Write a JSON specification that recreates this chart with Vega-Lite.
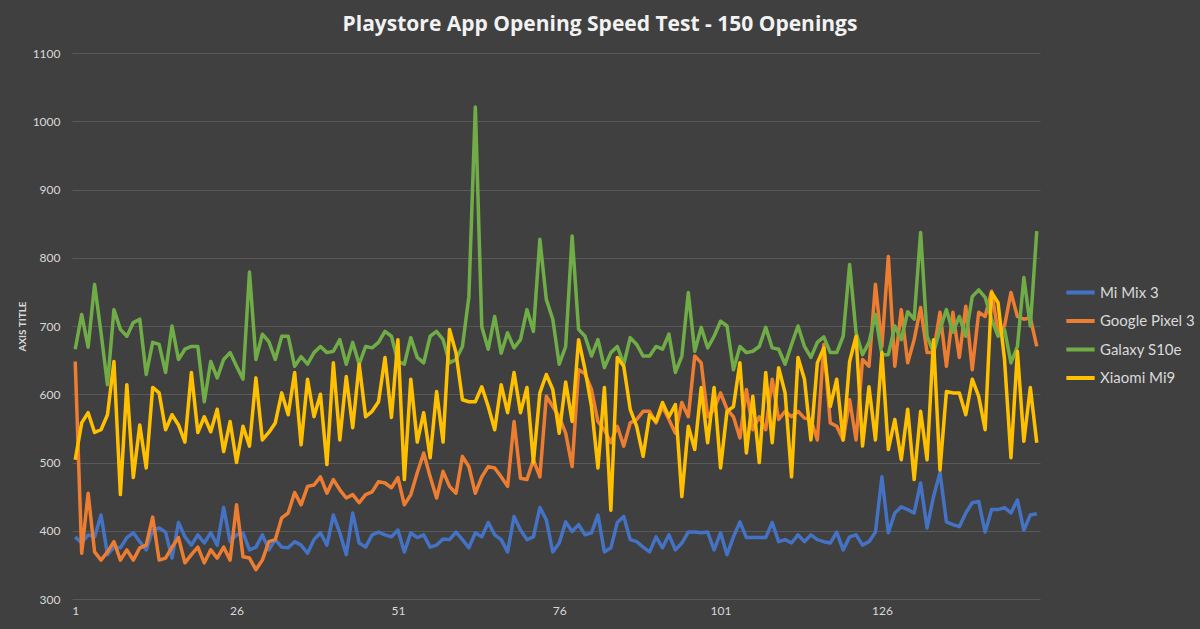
{
  "$schema": "https://vega.github.io/schema/vega-lite/v6.json",
  "width": 968,
  "height": 546,
  "autosize": {"type": "none"},
  "padding": {"left": 72, "top": 53, "right": 160, "bottom": 30},
  "background": "#404040",
  "title": {
    "text": "Playstore App Opening Speed Test - 150 Openings",
    "font": "Open Sans",
    "fontSize": 21,
    "fontWeight": "bold",
    "color": "#f2f2f2",
    "dx": 44,
    "offset": 12
  },
  "data": {
    "values": [
      {"n":1,"Mi Mix 3":391,"Google Pixel 3":648,"Galaxy S10e":666,"Xiaomi Mi9":504},
      {"n":2,"Mi Mix 3":382,"Google Pixel 3":367,"Galaxy S10e":717,"Xiaomi Mi9":558},
      {"n":3,"Mi Mix 3":394,"Google Pixel 3":455,"Galaxy S10e":669,"Xiaomi Mi9":573},
      {"n":4,"Mi Mix 3":391,"Google Pixel 3":369,"Galaxy S10e":761,"Xiaomi Mi9":544},
      {"n":5,"Mi Mix 3":423,"Google Pixel 3":357,"Galaxy S10e":690,"Xiaomi Mi9":548},
      {"n":6,"Mi Mix 3":365,"Google Pixel 3":369,"Galaxy S10e":614,"Xiaomi Mi9":570},
      {"n":7,"Mi Mix 3":376,"Google Pixel 3":384,"Galaxy S10e":724,"Xiaomi Mi9":648},
      {"n":8,"Mi Mix 3":375,"Google Pixel 3":357,"Galaxy S10e":695,"Xiaomi Mi9":453},
      {"n":9,"Mi Mix 3":390,"Google Pixel 3":372,"Galaxy S10e":685,"Xiaomi Mi9":614},
      {"n":10,"Mi Mix 3":397,"Google Pixel 3":357,"Galaxy S10e":705,"Xiaomi Mi9":478},
      {"n":11,"Mi Mix 3":384,"Google Pixel 3":375,"Galaxy S10e":710,"Xiaomi Mi9":555},
      {"n":12,"Mi Mix 3":372,"Google Pixel 3":379,"Galaxy S10e":629,"Xiaomi Mi9":492},
      {"n":13,"Mi Mix 3":401,"Google Pixel 3":420,"Galaxy S10e":676,"Xiaomi Mi9":610},
      {"n":14,"Mi Mix 3":404,"Google Pixel 3":357,"Galaxy S10e":673,"Xiaomi Mi9":602},
      {"n":15,"Mi Mix 3":398,"Google Pixel 3":360,"Galaxy S10e":632,"Xiaomi Mi9":548},
      {"n":16,"Mi Mix 3":360,"Google Pixel 3":376,"Galaxy S10e":700,"Xiaomi Mi9":570},
      {"n":17,"Mi Mix 3":412,"Google Pixel 3":390,"Galaxy S10e":651,"Xiaomi Mi9":555},
      {"n":18,"Mi Mix 3":391,"Google Pixel 3":353,"Galaxy S10e":666,"Xiaomi Mi9":530},
      {"n":19,"Mi Mix 3":379,"Google Pixel 3":365,"Galaxy S10e":670,"Xiaomi Mi9":632},
      {"n":20,"Mi Mix 3":394,"Google Pixel 3":376,"Galaxy S10e":670,"Xiaomi Mi9":544},
      {"n":21,"Mi Mix 3":382,"Google Pixel 3":353,"Galaxy S10e":589,"Xiaomi Mi9":567},
      {"n":22,"Mi Mix 3":397,"Google Pixel 3":372,"Galaxy S10e":648,"Xiaomi Mi9":545},
      {"n":23,"Mi Mix 3":379,"Google Pixel 3":360,"Galaxy S10e":624,"Xiaomi Mi9":578},
      {"n":24,"Mi Mix 3":434,"Google Pixel 3":376,"Galaxy S10e":651,"Xiaomi Mi9":516},
      {"n":25,"Mi Mix 3":384,"Google Pixel 3":357,"Galaxy S10e":661,"Xiaomi Mi9":560},
      {"n":26,"Mi Mix 3":394,"Google Pixel 3":438,"Galaxy S10e":641,"Xiaomi Mi9":500},
      {"n":27,"Mi Mix 3":397,"Google Pixel 3":362,"Galaxy S10e":622,"Xiaomi Mi9":553},
      {"n":28,"Mi Mix 3":372,"Google Pixel 3":360,"Galaxy S10e":779,"Xiaomi Mi9":524},
      {"n":29,"Mi Mix 3":376,"Google Pixel 3":343,"Galaxy S10e":651,"Xiaomi Mi9":624},
      {"n":30,"Mi Mix 3":394,"Google Pixel 3":357,"Galaxy S10e":688,"Xiaomi Mi9":533},
      {"n":31,"Mi Mix 3":372,"Google Pixel 3":384,"Galaxy S10e":677,"Xiaomi Mi9":544},
      {"n":32,"Mi Mix 3":387,"Google Pixel 3":387,"Galaxy S10e":651,"Xiaomi Mi9":558},
      {"n":33,"Mi Mix 3":376,"Google Pixel 3":419,"Galaxy S10e":685,"Xiaomi Mi9":602},
      {"n":34,"Mi Mix 3":375,"Google Pixel 3":426,"Galaxy S10e":685,"Xiaomi Mi9":570},
      {"n":35,"Mi Mix 3":384,"Google Pixel 3":456,"Galaxy S10e":641,"Xiaomi Mi9":632},
      {"n":36,"Mi Mix 3":379,"Google Pixel 3":438,"Galaxy S10e":655,"Xiaomi Mi9":526},
      {"n":37,"Mi Mix 3":367,"Google Pixel 3":465,"Galaxy S10e":644,"Xiaomi Mi9":622},
      {"n":38,"Mi Mix 3":387,"Google Pixel 3":467,"Galaxy S10e":661,"Xiaomi Mi9":567},
      {"n":39,"Mi Mix 3":397,"Google Pixel 3":479,"Galaxy S10e":670,"Xiaomi Mi9":600},
      {"n":40,"Mi Mix 3":379,"Google Pixel 3":455,"Galaxy S10e":661,"Xiaomi Mi9":497},
      {"n":41,"Mi Mix 3":423,"Google Pixel 3":475,"Galaxy S10e":663,"Xiaomi Mi9":646},
      {"n":42,"Mi Mix 3":397,"Google Pixel 3":460,"Galaxy S10e":680,"Xiaomi Mi9":533},
      {"n":43,"Mi Mix 3":365,"Google Pixel 3":448,"Galaxy S10e":644,"Xiaomi Mi9":626},
      {"n":44,"Mi Mix 3":426,"Google Pixel 3":453,"Galaxy S10e":676,"Xiaomi Mi9":551},
      {"n":45,"Mi Mix 3":382,"Google Pixel 3":441,"Galaxy S10e":644,"Xiaomi Mi9":644},
      {"n":46,"Mi Mix 3":376,"Google Pixel 3":453,"Galaxy S10e":670,"Xiaomi Mi9":567},
      {"n":47,"Mi Mix 3":394,"Google Pixel 3":457,"Galaxy S10e":668,"Xiaomi Mi9":575},
      {"n":48,"Mi Mix 3":398,"Google Pixel 3":472,"Galaxy S10e":676,"Xiaomi Mi9":589},
      {"n":49,"Mi Mix 3":394,"Google Pixel 3":470,"Galaxy S10e":692,"Xiaomi Mi9":654},
      {"n":50,"Mi Mix 3":391,"Google Pixel 3":463,"Galaxy S10e":685,"Xiaomi Mi9":566},
      {"n":51,"Mi Mix 3":401,"Google Pixel 3":478,"Galaxy S10e":648,"Xiaomi Mi9":680},
      {"n":52,"Mi Mix 3":369,"Google Pixel 3":438,"Galaxy S10e":644,"Xiaomi Mi9":475},
      {"n":53,"Mi Mix 3":397,"Google Pixel 3":453,"Galaxy S10e":683,"Xiaomi Mi9":622},
      {"n":54,"Mi Mix 3":390,"Google Pixel 3":485,"Galaxy S10e":654,"Xiaomi Mi9":530},
      {"n":55,"Mi Mix 3":394,"Google Pixel 3":514,"Galaxy S10e":646,"Xiaomi Mi9":573},
      {"n":56,"Mi Mix 3":376,"Google Pixel 3":479,"Galaxy S10e":685,"Xiaomi Mi9":507},
      {"n":57,"Mi Mix 3":379,"Google Pixel 3":448,"Galaxy S10e":692,"Xiaomi Mi9":604},
      {"n":58,"Mi Mix 3":388,"Google Pixel 3":487,"Galaxy S10e":680,"Xiaomi Mi9":530},
      {"n":59,"Mi Mix 3":387,"Google Pixel 3":465,"Galaxy S10e":646,"Xiaomi Mi9":695},
      {"n":60,"Mi Mix 3":398,"Google Pixel 3":455,"Galaxy S10e":651,"Xiaomi Mi9":661},
      {"n":61,"Mi Mix 3":387,"Google Pixel 3":509,"Galaxy S10e":670,"Xiaomi Mi9":592},
      {"n":62,"Mi Mix 3":375,"Google Pixel 3":494,"Galaxy S10e":743,"Xiaomi Mi9":589},
      {"n":63,"Mi Mix 3":397,"Google Pixel 3":455,"Galaxy S10e":1021,"Xiaomi Mi9":589},
      {"n":64,"Mi Mix 3":391,"Google Pixel 3":479,"Galaxy S10e":699,"Xiaomi Mi9":611},
      {"n":65,"Mi Mix 3":412,"Google Pixel 3":494,"Galaxy S10e":666,"Xiaomi Mi9":582},
      {"n":66,"Mi Mix 3":394,"Google Pixel 3":492,"Galaxy S10e":714,"Xiaomi Mi9":548},
      {"n":67,"Mi Mix 3":387,"Google Pixel 3":479,"Galaxy S10e":660,"Xiaomi Mi9":614},
      {"n":68,"Mi Mix 3":369,"Google Pixel 3":465,"Galaxy S10e":690,"Xiaomi Mi9":573},
      {"n":69,"Mi Mix 3":421,"Google Pixel 3":560,"Galaxy S10e":668,"Xiaomi Mi9":632},
      {"n":70,"Mi Mix 3":401,"Google Pixel 3":477,"Galaxy S10e":680,"Xiaomi Mi9":573},
      {"n":71,"Mi Mix 3":387,"Google Pixel 3":475,"Galaxy S10e":724,"Xiaomi Mi9":610},
      {"n":72,"Mi Mix 3":391,"Google Pixel 3":504,"Galaxy S10e":692,"Xiaomi Mi9":500},
      {"n":73,"Mi Mix 3":434,"Google Pixel 3":479,"Galaxy S10e":827,"Xiaomi Mi9":602},
      {"n":74,"Mi Mix 3":416,"Google Pixel 3":597,"Galaxy S10e":739,"Xiaomi Mi9":629},
      {"n":75,"Mi Mix 3":369,"Google Pixel 3":582,"Galaxy S10e":710,"Xiaomi Mi9":607},
      {"n":76,"Mi Mix 3":382,"Google Pixel 3":567,"Galaxy S10e":644,"Xiaomi Mi9":543},
      {"n":77,"Mi Mix 3":413,"Google Pixel 3":543,"Galaxy S10e":670,"Xiaomi Mi9":618},
      {"n":78,"Mi Mix 3":399,"Google Pixel 3":494,"Galaxy S10e":832,"Xiaomi Mi9":560},
      {"n":79,"Mi Mix 3":409,"Google Pixel 3":636,"Galaxy S10e":695,"Xiaomi Mi9":680},
      {"n":80,"Mi Mix 3":394,"Google Pixel 3":630,"Galaxy S10e":685,"Xiaomi Mi9":636},
      {"n":81,"Mi Mix 3":397,"Google Pixel 3":607,"Galaxy S10e":656,"Xiaomi Mi9":582},
      {"n":82,"Mi Mix 3":423,"Google Pixel 3":560,"Galaxy S10e":680,"Xiaomi Mi9":492},
      {"n":83,"Mi Mix 3":369,"Google Pixel 3":548,"Galaxy S10e":639,"Xiaomi Mi9":610},
      {"n":84,"Mi Mix 3":375,"Google Pixel 3":529,"Galaxy S10e":661,"Xiaomi Mi9":430},
      {"n":85,"Mi Mix 3":412,"Google Pixel 3":553,"Galaxy S10e":670,"Xiaomi Mi9":654},
      {"n":86,"Mi Mix 3":421,"Google Pixel 3":524,"Galaxy S10e":644,"Xiaomi Mi9":641},
      {"n":87,"Mi Mix 3":387,"Google Pixel 3":558,"Galaxy S10e":683,"Xiaomi Mi9":578},
      {"n":88,"Mi Mix 3":384,"Google Pixel 3":563,"Galaxy S10e":673,"Xiaomi Mi9":553},
      {"n":89,"Mi Mix 3":376,"Google Pixel 3":575,"Galaxy S10e":656,"Xiaomi Mi9":509},
      {"n":90,"Mi Mix 3":369,"Google Pixel 3":575,"Galaxy S10e":656,"Xiaomi Mi9":570},
      {"n":91,"Mi Mix 3":391,"Google Pixel 3":558,"Galaxy S10e":670,"Xiaomi Mi9":560},
      {"n":92,"Mi Mix 3":375,"Google Pixel 3":582,"Galaxy S10e":666,"Xiaomi Mi9":588},
      {"n":93,"Mi Mix 3":394,"Google Pixel 3":563,"Galaxy S10e":688,"Xiaomi Mi9":567},
      {"n":94,"Mi Mix 3":372,"Google Pixel 3":543,"Galaxy S10e":632,"Xiaomi Mi9":585},
      {"n":95,"Mi Mix 3":382,"Google Pixel 3":588,"Galaxy S10e":656,"Xiaomi Mi9":450},
      {"n":96,"Mi Mix 3":398,"Google Pixel 3":567,"Galaxy S10e":749,"Xiaomi Mi9":553},
      {"n":97,"Mi Mix 3":398,"Google Pixel 3":656,"Galaxy S10e":663,"Xiaomi Mi9":519},
      {"n":98,"Mi Mix 3":397,"Google Pixel 3":646,"Galaxy S10e":698,"Xiaomi Mi9":610},
      {"n":99,"Mi Mix 3":398,"Google Pixel 3":567,"Galaxy S10e":668,"Xiaomi Mi9":529},
      {"n":100,"Mi Mix 3":372,"Google Pixel 3":578,"Galaxy S10e":685,"Xiaomi Mi9":610},
      {"n":101,"Mi Mix 3":397,"Google Pixel 3":602,"Galaxy S10e":707,"Xiaomi Mi9":492},
      {"n":102,"Mi Mix 3":365,"Google Pixel 3":578,"Galaxy S10e":700,"Xiaomi Mi9":575},
      {"n":103,"Mi Mix 3":391,"Google Pixel 3":567,"Galaxy S10e":636,"Xiaomi Mi9":582},
      {"n":104,"Mi Mix 3":413,"Google Pixel 3":536,"Galaxy S10e":670,"Xiaomi Mi9":646},
      {"n":105,"Mi Mix 3":390,"Google Pixel 3":607,"Galaxy S10e":661,"Xiaomi Mi9":514},
      {"n":106,"Mi Mix 3":390,"Google Pixel 3":548,"Galaxy S10e":663,"Xiaomi Mi9":597},
      {"n":107,"Mi Mix 3":390,"Google Pixel 3":567,"Galaxy S10e":670,"Xiaomi Mi9":500},
      {"n":108,"Mi Mix 3":390,"Google Pixel 3":548,"Galaxy S10e":698,"Xiaomi Mi9":632},
      {"n":109,"Mi Mix 3":412,"Google Pixel 3":622,"Galaxy S10e":668,"Xiaomi Mi9":529},
      {"n":110,"Mi Mix 3":384,"Google Pixel 3":563,"Galaxy S10e":666,"Xiaomi Mi9":639},
      {"n":111,"Mi Mix 3":387,"Google Pixel 3":575,"Galaxy S10e":644,"Xiaomi Mi9":602},
      {"n":112,"Mi Mix 3":382,"Google Pixel 3":567,"Galaxy S10e":673,"Xiaomi Mi9":479},
      {"n":113,"Mi Mix 3":394,"Google Pixel 3":575,"Galaxy S10e":700,"Xiaomi Mi9":654},
      {"n":114,"Mi Mix 3":384,"Google Pixel 3":565,"Galaxy S10e":670,"Xiaomi Mi9":622},
      {"n":115,"Mi Mix 3":394,"Google Pixel 3":563,"Galaxy S10e":654,"Xiaomi Mi9":533},
      {"n":116,"Mi Mix 3":387,"Google Pixel 3":533,"Galaxy S10e":676,"Xiaomi Mi9":646},
      {"n":117,"Mi Mix 3":384,"Google Pixel 3":673,"Galaxy S10e":684,"Xiaomi Mi9":668},
      {"n":118,"Mi Mix 3":382,"Google Pixel 3":558,"Galaxy S10e":661,"Xiaomi Mi9":582},
      {"n":119,"Mi Mix 3":398,"Google Pixel 3":553,"Galaxy S10e":661,"Xiaomi Mi9":622},
      {"n":120,"Mi Mix 3":372,"Google Pixel 3":533,"Galaxy S10e":685,"Xiaomi Mi9":533},
      {"n":121,"Mi Mix 3":391,"Google Pixel 3":592,"Galaxy S10e":790,"Xiaomi Mi9":648},
      {"n":122,"Mi Mix 3":394,"Google Pixel 3":533,"Galaxy S10e":690,"Xiaomi Mi9":685},
      {"n":123,"Mi Mix 3":379,"Google Pixel 3":651,"Galaxy S10e":658,"Xiaomi Mi9":524},
      {"n":124,"Mi Mix 3":384,"Google Pixel 3":641,"Galaxy S10e":676,"Xiaomi Mi9":611},
      {"n":125,"Mi Mix 3":398,"Google Pixel 3":761,"Galaxy S10e":717,"Xiaomi Mi9":533},
      {"n":126,"Mi Mix 3":479,"Google Pixel 3":670,"Galaxy S10e":658,"Xiaomi Mi9":661},
      {"n":127,"Mi Mix 3":397,"Google Pixel 3":802,"Galaxy S10e":658,"Xiaomi Mi9":519},
      {"n":128,"Mi Mix 3":426,"Google Pixel 3":641,"Galaxy S10e":700,"Xiaomi Mi9":563},
      {"n":129,"Mi Mix 3":435,"Google Pixel 3":724,"Galaxy S10e":680,"Xiaomi Mi9":504},
      {"n":130,"Mi Mix 3":431,"Google Pixel 3":646,"Galaxy S10e":721,"Xiaomi Mi9":578},
      {"n":131,"Mi Mix 3":426,"Google Pixel 3":680,"Galaxy S10e":710,"Xiaomi Mi9":475},
      {"n":132,"Mi Mix 3":470,"Google Pixel 3":727,"Galaxy S10e":837,"Xiaomi Mi9":575},
      {"n":133,"Mi Mix 3":404,"Google Pixel 3":661,"Galaxy S10e":685,"Xiaomi Mi9":504},
      {"n":134,"Mi Mix 3":450,"Google Pixel 3":661,"Galaxy S10e":661,"Xiaomi Mi9":680},
      {"n":135,"Mi Mix 3":485,"Google Pixel 3":720,"Galaxy S10e":695,"Xiaomi Mi9":489},
      {"n":136,"Mi Mix 3":413,"Google Pixel 3":641,"Galaxy S10e":724,"Xiaomi Mi9":604},
      {"n":137,"Mi Mix 3":409,"Google Pixel 3":720,"Galaxy S10e":691,"Xiaomi Mi9":602},
      {"n":138,"Mi Mix 3":406,"Google Pixel 3":654,"Galaxy S10e":714,"Xiaomi Mi9":602},
      {"n":139,"Mi Mix 3":426,"Google Pixel 3":729,"Galaxy S10e":685,"Xiaomi Mi9":570},
      {"n":140,"Mi Mix 3":441,"Google Pixel 3":636,"Galaxy S10e":743,"Xiaomi Mi9":622},
      {"n":141,"Mi Mix 3":443,"Google Pixel 3":720,"Galaxy S10e":753,"Xiaomi Mi9":597},
      {"n":142,"Mi Mix 3":398,"Google Pixel 3":714,"Galaxy S10e":742,"Xiaomi Mi9":548},
      {"n":143,"Mi Mix 3":431,"Google Pixel 3":751,"Galaxy S10e":710,"Xiaomi Mi9":749},
      {"n":144,"Mi Mix 3":431,"Google Pixel 3":691,"Galaxy S10e":685,"Xiaomi Mi9":734},
      {"n":145,"Mi Mix 3":434,"Google Pixel 3":700,"Galaxy S10e":695,"Xiaomi Mi9":651},
      {"n":146,"Mi Mix 3":426,"Google Pixel 3":749,"Galaxy S10e":646,"Xiaomi Mi9":507},
      {"n":147,"Mi Mix 3":445,"Google Pixel 3":714,"Galaxy S10e":670,"Xiaomi Mi9":663},
      {"n":148,"Mi Mix 3":401,"Google Pixel 3":710,"Galaxy S10e":771,"Xiaomi Mi9":531},
      {"n":149,"Mi Mix 3":423,"Google Pixel 3":712,"Galaxy S10e":700,"Xiaomi Mi9":610},
      {"n":150,"Mi Mix 3":425,"Google Pixel 3":670,"Galaxy S10e":839,"Xiaomi Mi9":529}
    ]
  },
  "transform": [
    {"fold": ["Mi Mix 3", "Google Pixel 3", "Galaxy S10e", "Xiaomi Mi9"], "as": ["phone", "ms"]}
  ],
  "mark": {"type": "line", "strokeWidth": 3.5, "strokeJoin": "round"},
  "encoding": {
    "x": {
      "field": "n",
      "type": "quantitative",
      "scale": {"domain": [0.5, 150.5], "nice": false, "zero": false},
      "axis": {
        "values": [1, 26, 51, 76, 101, 126],
        "title": null,
        "grid": false,
        "domain": false,
        "ticks": false,
        "labelPadding": 6,
        "labelFontSize": 12,
        "labelFont": "Lato",
        "labelColor": "#d9d9d9"
      }
    },
    "y": {
      "field": "ms",
      "type": "quantitative",
      "scale": {"domain": [300, 1100], "nice": false, "zero": false},
      "axis": {
        "values": [300, 400, 500, 600, 700, 800, 900, 1000, 1100],
        "format": "d",
        "title": "AXIS TITLE",
        "titleFont": "Lato",
        "titleFontSize": 10,
        "titleFontWeight": "bold",
        "titleColor": "#d9d9d9",
        "titleX": -50,
        "titleY": 273,
        "titleAngle": -90,
        "titleAlign": "center",
        "titleBaseline": "middle",
        "grid": true,
        "gridColor": "#595959",
        "gridWidth": 1,
        "domain": false,
        "ticks": false,
        "labelPadding": 12,
        "labelFontSize": 12,
        "labelFont": "Lato",
        "labelColor": "#d9d9d9"
      }
    },
    "color": {
      "field": "phone",
      "type": "nominal",
      "sort": ["Mi Mix 3", "Google Pixel 3", "Galaxy S10e", "Xiaomi Mi9"],
      "scale": {
        "domain": ["Mi Mix 3", "Google Pixel 3", "Galaxy S10e", "Xiaomi Mi9"],
        "range": ["#4472C4", "#ED7D31", "#70AD47", "#FFC000"]
      },
      "legend": {
        "title": null,
        "orient": "none",
        "legendX": 992,
        "legendY": 223,
        "symbolType": "stroke",
        "symbolSize": 800,
        "symbolStrokeWidth": 4,
        "labelFont": "Lato",
        "labelFontSize": 15,
        "labelColor": "#d9d9d9",
        "labelOffset": 3,
        "rowPadding": 3.5
      }
    }
  },
  "config": {
    "view": {"stroke": null}
  }
}
